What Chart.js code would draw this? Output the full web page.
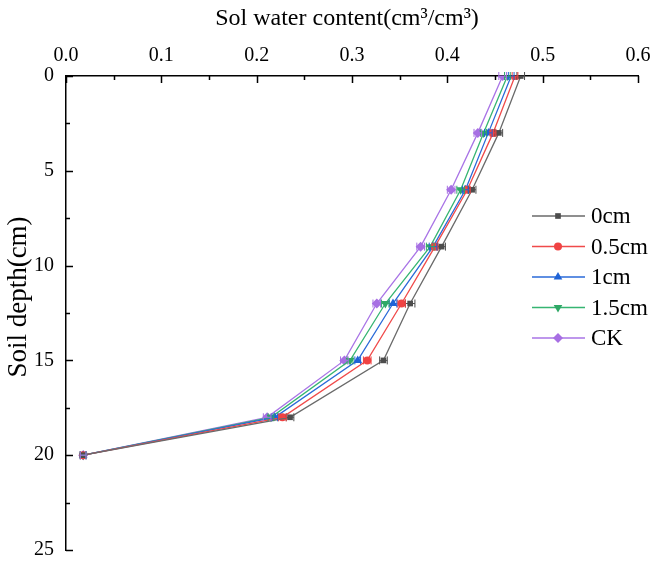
<!DOCTYPE html>
<html>
<head>
<meta charset="utf-8">
<script src="https://cdn.jsdelivr.net/npm/chart.js@4/dist/chart.umd.min.js"></script>
<style>
  html, body { margin: 0; padding: 0; background: #fff; }
  #wrap { width: 652px; height: 562px; }
</style>
</head>
<body>
<div id="wrap"><canvas id="c" width="652" height="562"></canvas></div>
<script>
const depths = [0, 3, 6, 9, 12, 15, 18, 20];
const seriesNames = ["0cm", "0.5cm", "1cm", "1.5cm", "CK"];
const water0 = [0.477, 0.454, 0.426, 0.394, 0.361, 0.333, 0.235, 0.018];
const water05 = [0.471, 0.448, 0.421, 0.387, 0.352, 0.316, 0.227, 0.018];
const water1 = [0.467, 0.443, 0.419, 0.385, 0.343, 0.306, 0.219, 0.018];
const water15 = [0.463, 0.438, 0.414, 0.382, 0.335, 0.298, 0.215, 0.018];
const waterCK = [0.458, 0.432, 0.404, 0.372, 0.326, 0.292, 0.211, 0.018];
const err0 = [0.004, 0.004, 0.004, 0.004, 0.005, 0.004, 0.004, 0.003];
const err05 = [0.003, 0.003, 0.003, 0.003, 0.004, 0.004, 0.004, 0.003];
const err1 = [0.003, 0.004, 0.003, 0.004, 0.004, 0.003, 0.003, 0.003];
const err15 = [0.003, 0.003, 0.004, 0.004, 0.004, 0.003, 0.003, 0.003];
const errCK = [0.004, 0.004, 0.004, 0.004, 0.004, 0.004, 0.004, 0.003];
const xTicks = [0, 0.1, 0.2, 0.3, 0.4, 0.5, 0.6];
const yTicks = [0, 5, 10, 15, 20, 25];

const allWater = [water0, water05, water1, water15, waterCK];
const allErr = [err0, err05, err1, err15, errCK];
const lineColors = ["#6a6a6a", "#f04a4a", "#2a6ad8", "#36b572", "#a974e6"];
const markColors = ["#4d4d4d", "#f04343", "#1f63d6", "#2fa866", "#a76fe3"];
const shapes = ["rect", "circle", "triangle", "triangle", "rectRot"];
const rots = [0, 0, 0, 180, 0];
const radii = [4, 4, 5, 5, 5];
const serif = "'Liberation Serif', 'Times New Roman', serif";

const datasets = seriesNames.map((name, i) => ({
  label: name,
  data: depths.map((d, k) => ({ x: allWater[i][k], y: d })),
  errs: allErr[i],
  borderColor: lineColors[i],
  borderWidth: 1.3,
  backgroundColor: markColors[i],
  pointBackgroundColor: markColors[i],
  pointBorderColor: markColors[i],
  pointStyle: shapes[i],
  rotation: rots[i],
  pointRadius: radii[i],
  pointBorderWidth: 0,
  tension: 0
}));

// horizontal error bars, drawn through the x scale
const errorBars = {
  id: "errorBars",
  afterDatasetsDraw(chart) {
    const ctx = chart.ctx, xs = chart.scales.x, ys = chart.scales.y;
    chart.data.datasets.forEach((ds, i) => {
      ctx.save();
      ctx.strokeStyle = ds.pointBackgroundColor;
      ctx.lineWidth = 1;
      ds.data.forEach((p, k) => {
        const y = ys.getPixelForValue(p.y);
        const x1 = xs.getPixelForValue(p.x - ds.errs[k]);
        const x2 = xs.getPixelForValue(p.x + ds.errs[k]);
        ctx.beginPath();
        ctx.moveTo(x1, y); ctx.lineTo(x2, y);
        ctx.moveTo(x1, y - 4); ctx.lineTo(x1, y + 4);
        ctx.moveTo(x2, y - 4); ctx.lineTo(x2, y + 4);
        ctx.stroke();
      });
      ctx.restore();
    });
  }
};

// inward major and minor ticks, plus the two axis titles
const innerTicks = {
  id: "innerTicks",
  afterDraw(chart) {
    const ctx = chart.ctx, xs = chart.scales.x, ys = chart.scales.y;
    const a = chart.chartArea;
    ctx.save();
    ctx.strokeStyle = "#000";
    ctx.lineWidth = 1.5;
    ctx.beginPath();
    for (let v = 0; v <= 0.6001; v += 0.05) {
      const x = Math.round(xs.getPixelForValue(v)) + 0.5;
      const len = Math.abs(Math.round(v * 20) % 2) === 0 ? 7 : 4;
      ctx.moveTo(x, a.top); ctx.lineTo(x, a.top + len);
    }
    for (let v = 0; v <= 25; v += 2.5) {
      const y = Math.round(ys.getPixelForValue(v)) + 0.5;
      const len = v % 5 === 0 ? 7 : 4;
      ctx.moveTo(a.left, y); ctx.lineTo(a.left + len, y);
    }
    ctx.stroke();

    ctx.fillStyle = "#000";
    ctx.textAlign = "center";
    ctx.textBaseline = "middle";
    ctx.font = "24px " + serif;
    ctx.fillText("Sol water content(cm³/cm³)", 347, 19);
    ctx.translate(19, 297);
    ctx.rotate(-Math.PI / 2);
    ctx.font = "27px " + serif;
    ctx.fillText("Soil depth(cm)", 0, 0);
    ctx.restore();
  }
};

// legend placed inside the right part of the plot
const sideLegend = {
  id: "sideLegend",
  afterDraw(chart) {
    const ctx = chart.ctx;
    ctx.save();
    chart.data.datasets.forEach((ds, i) => {
      const y = 216 + i * 30.5;
      ctx.strokeStyle = ds.borderColor;
      ctx.lineWidth = 1.3;
      ctx.beginPath();
      ctx.moveTo(532, y); ctx.lineTo(585, y);
      ctx.stroke();
      ctx.fillStyle = ds.pointBackgroundColor;
      Chart.helpers.drawPoint(ctx, {
        pointStyle: ds.pointStyle, rotation: ds.rotation,
        radius: ds.pointRadius, borderWidth: 0
      }, 558, y);
      ctx.fillStyle = "#000";
      ctx.font = "23px " + serif;
      ctx.textBaseline = "middle";
      ctx.fillText(ds.label, 591, y + 1);
    });
    ctx.restore();
  }
};

new Chart(document.getElementById("c"), {
  type: "line",
  data: { datasets: datasets },
  plugins: [errorBars, innerTicks, sideLegend],
  options: {
    responsive: false,
    animation: false,
    layout: { padding: { left: 0, top: 0, right: 14, bottom: 12 } },
    plugins: { legend: { display: false }, tooltip: { enabled: false } },
    scales: {
      x: {
        type: "linear",
        position: "top",
        min: 0, max: 0.6,
        afterBuildTicks: s => { s.ticks = xTicks.map(v => ({ value: v })); },
        ticks: {
          callback: v => v.toFixed(1),
          color: "#000",
          font: { family: serif, size: 20 },
          padding: 0,
          maxRotation: 0
        },
        grid: { display: false },
        border: { display: true, color: "#000", width: 1.5 },
        afterFit: s => { s.height = 76; s.paddingLeft = 0; s.paddingRight = 0; }
      },
      y: {
        type: "linear",
        reverse: true,
        min: 0, max: 25,
        afterBuildTicks: s => { s.ticks = yTicks.map(v => ({ value: v })); },
        ticks: {
          color: "#000",
          font: { family: serif, size: 20 },
          padding: 4
        },
        grid: { display: false },
        border: { display: true, color: "#000", width: 1.5 },
        afterFit: s => { s.width = 66; s.paddingTop = 0; s.paddingBottom = 0; }
      }
    }
  }
});
</script>
</body>
</html>
